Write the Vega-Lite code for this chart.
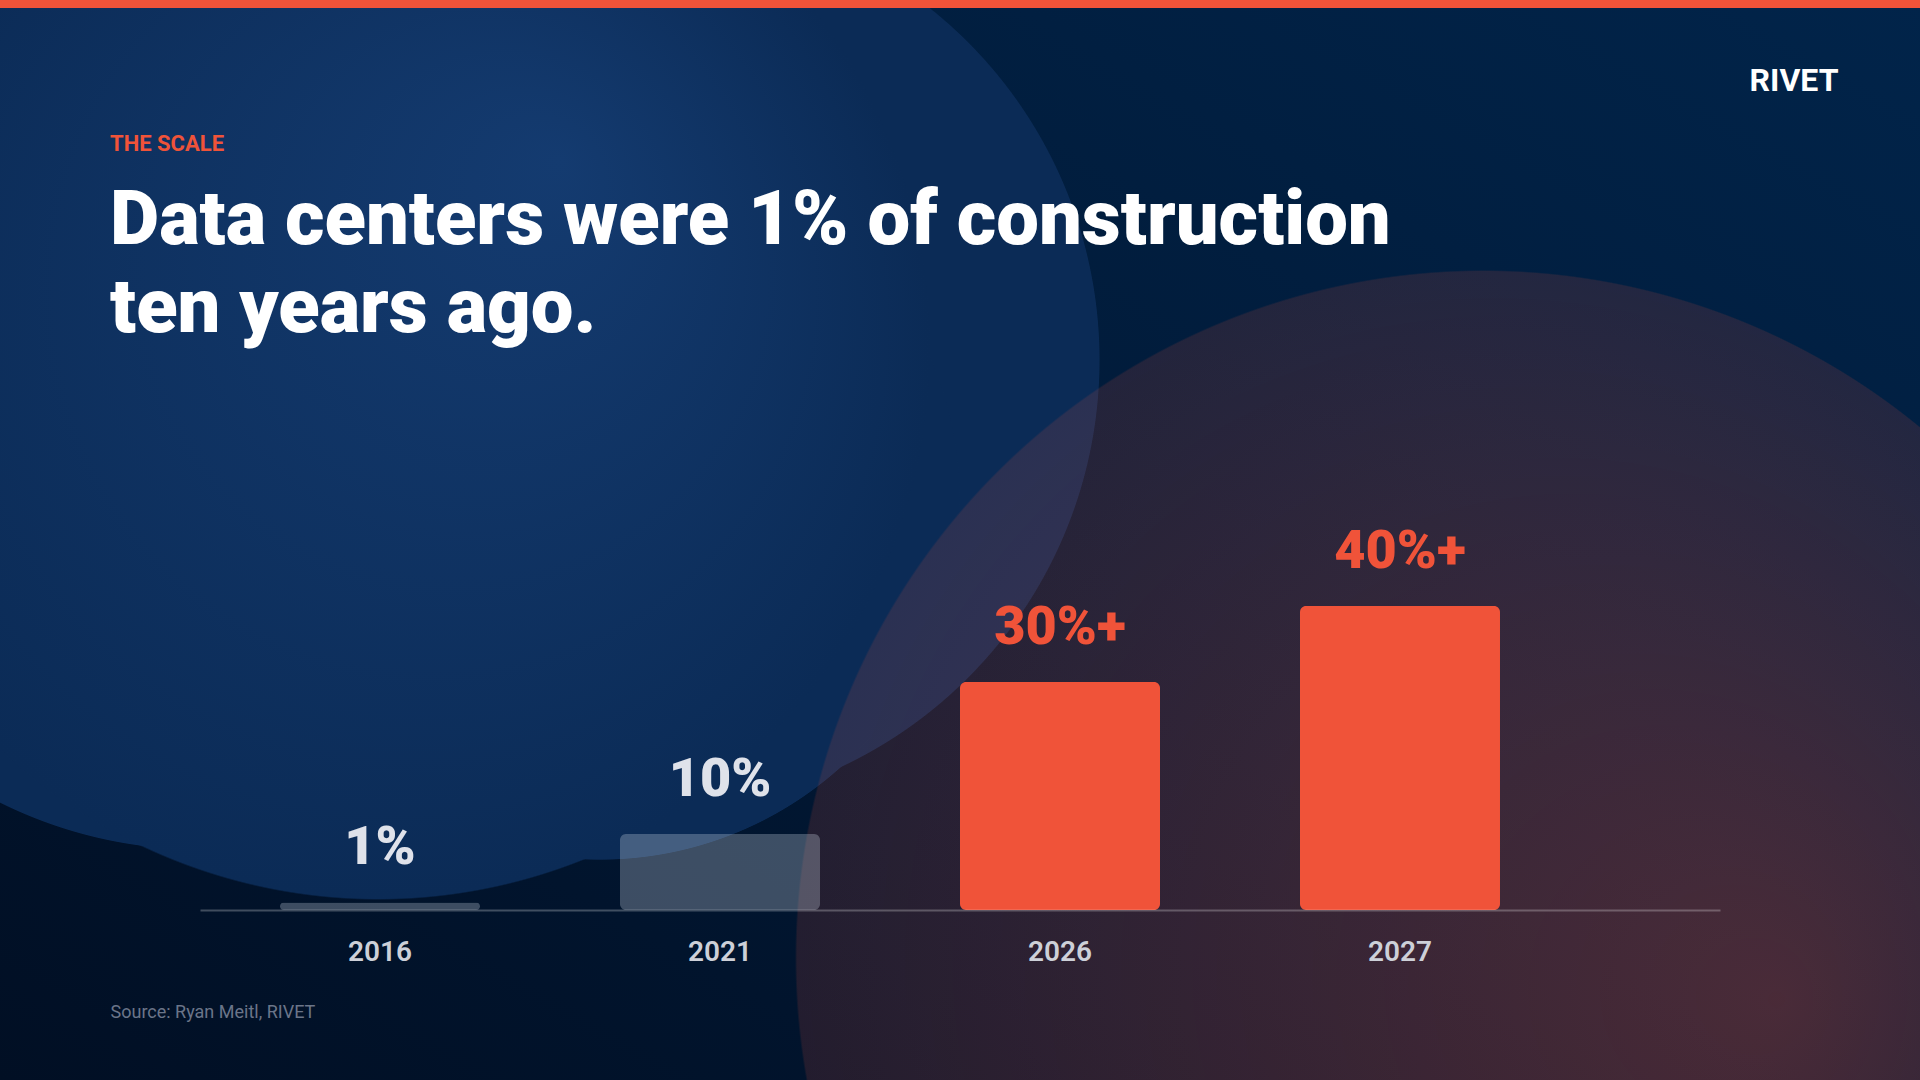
{
  "$schema": "https://vega.github.io/schema/vega-lite/v6.json",
  "width": 1920,
  "height": 1080,
  "autosize": {"type": "none"},
  "padding": 0,
  "background": "#011a36",
  "config": {
    "font": "Roboto",
    "view": {"stroke": null},
    "axis": {"grid": false}
  },
  "title": {
    "text": "THE SCALE",
    "subtitle": ["Data centers were 1% of construction", "ten years ago."],
    "anchor": "start",
    "frame": "group",
    "orient": "top",
    "offset": -348,
    "dx": 110,
    "font": "Roboto",
    "fontSize": 22,
    "fontWeight": 700,
    "color": "#f05339",
    "subtitleFont": "Roboto",
    "subtitleFontSize": 76,
    "subtitleFontWeight": 900,
    "subtitleColor": "#ffffff",
    "subtitleLineHeight": 88,
    "subtitlePadding": 28
  },
  "layer": [
    {
      "data": {"values": [{"shape": "backdrop"}]},
      "mark": {"type": "rect", "fill": {"gradient": "linear", "x1": 1, "y1": 0, "x2": 0, "y2": 1, "stops": [{"offset": 0, "color": "#01244a"}, {"offset": 1, "color": "#010f24"}]}}
    },
    {
      "data": {"values": [{"shape": "blue-right"}]},
      "mark": {"type": "rect", "fill": {"gradient": "radial", "x1": 0.3385, "y1": 0.40625, "r1": 0, "x2": 0.3385, "y2": 0.40625, "r2": 0.2344, "stops": [{"offset": 0, "color": "#0b2b56"}, {"offset": 0.998, "color": "#0b2b56"}, {"offset": 1, "color": "rgba(11,43,86,0)"}]}}
    },
    {
      "data": {"values": [{"shape": "blue-lower"}]},
      "mark": {"type": "rect", "fill": {"gradient": "radial", "x1": 0.3125, "y1": 0.47917, "r1": 0, "x2": 0.3125, "y2": 0.47917, "r2": 0.1875, "stops": [{"offset": 0, "color": "#0b2b56"}, {"offset": 0.998, "color": "#0b2b56"}, {"offset": 1, "color": "rgba(11,43,86,0)"}]}}
    },
    {
      "data": {"values": [{"shape": "blue-left"}]},
      "mark": {"type": "rect", "fill": {"gradient": "radial", "x1": 0.10417, "y1": 0.42708, "r1": 0, "x2": 0.10417, "y2": 0.42708, "r2": 0.234375, "stops": [{"offset": 0, "color": "#0b2b56"}, {"offset": 0.998, "color": "#0b2b56"}, {"offset": 1, "color": "rgba(11,43,86,0)"}]}}
    },
    {
      "data": {"values": [{"shape": "blue-main"}]},
      "mark": {"type": "rect", "fill": {"gradient": "radial", "x1": 0.29167, "y1": 0.30208, "r1": 0, "x2": 0.196875, "y2": 0.4, "r2": 0.2875, "stops": [{"offset": 0, "color": "#143b70"}, {"offset": 0.998, "color": "#0b2b56"}, {"offset": 1, "color": "rgba(11,43,86,0)"}]}}
    },
    {
      "data": {"values": [{"shape": "red"}]},
      "mark": {"type": "rect", "fill": {"gradient": "radial", "x1": 0.92708, "y1": 0.73958, "r1": 0, "x2": 0.7724, "y2": 0.71771, "r2": 0.35833, "stops": [{"offset": 0, "color": "rgba(240,83,58,0.30)"}, {"offset": 0.998, "color": "rgba(240,83,58,0.14)"}, {"offset": 1, "color": "rgba(240,83,58,0)"}]}}
    },
    {
      "data": {"values": [{"shape": "topbar"}]},
      "mark": {"type": "rect", "fill": {"gradient": "linear", "x1": 0, "y1": 0, "x2": 0, "y2": 1, "stops": [{"offset": 0, "color": "#f05339"}, {"offset": 0.0074, "color": "#f05339"}, {"offset": 0.0075, "color": "rgba(240,83,58,0)"}, {"offset": 1, "color": "rgba(240,83,58,0)"}]}}
    },
    {
      "data": {"values": [
        {"year": 2016, "share": 1, "label": "1%"},
        {"year": 2021, "share": 10, "label": "10%"},
        {"year": 2026, "share": 30, "label": "30%+"},
        {"year": 2027, "share": 40, "label": "40%+"}
      ]},
      "encoding": {
        "x": {
          "field": "year",
          "type": "ordinal",
          "scale": {"range": [200, 1720], "paddingInner": 0.41176, "paddingOuter": 0.44118, "align": 0.26667},
          "axis": {
            "zindex": 2,
            "title": "Source: Ryan Meitl, RIVET",
            "titleX": 110,
            "titleY": 107,
            "titleAlign": "left",
            "titleAnchor": "start",
            "titleBaseline": "alphabetic",
            "titleFont": "Roboto",
            "titleFontSize": 18,
            "titleFontWeight": 400,
            "titleColor": "#6b7589",
            "labelAngle": 0,
            "labelFont": "Roboto",
            "labelFontSize": 28,
            "labelFontWeight": 600,
            "labelColor": "#cdd0d8",
            "labelPadding": 50,
            "labelBaseline": "alphabetic",
            "ticks": false,
            "tickSize": 0,
            "domain": true,
            "domainColor": "#ffffff",
            "domainOpacity": 0.25,
            "domainWidth": 2,
            "offset": -170,
            "grid": false
          }
        },
        "y": {
          "field": "share",
          "type": "quantitative",
          "scale": {"domain": [-22.37, 119.74], "nice": false, "zero": false},
          "axis": {
            "zindex": 2,
            "title": "RIVET",
            "titleX": 1838,
            "titleY": 90,
            "titleAngle": 0,
            "titleAlign": "right",
            "titleBaseline": "alphabetic",
            "titleFont": "Roboto",
            "titleFontSize": 32,
            "titleFontWeight": 700,
            "titleColor": "#ffffff",
            "labels": false,
            "ticks": false,
            "domain": false,
            "grid": false
          }
        }
      },
      "layer": [
        {
          "mark": {"type": "bar", "cornerRadius": 6},
          "encoding": {
            "color": {"condition": {"test": "datum.year >= 2026", "value": "#f05339"}, "value": "#cbd5e1"},
            "opacity": {"condition": {"test": "datum.year >= 2026", "value": 1}, "value": 0.3}
          }
        },
        {
          "mark": {"type": "text", "baseline": "alphabetic", "dy": -38, "font": "Roboto", "fontSize": 54, "fontWeight": 900},
          "encoding": {
            "text": {"field": "label"},
            "color": {"condition": {"test": "datum.year >= 2026", "value": "#f05339"}, "value": "#dfe2ea"}
          }
        }
      ]
    }
  ]
}
